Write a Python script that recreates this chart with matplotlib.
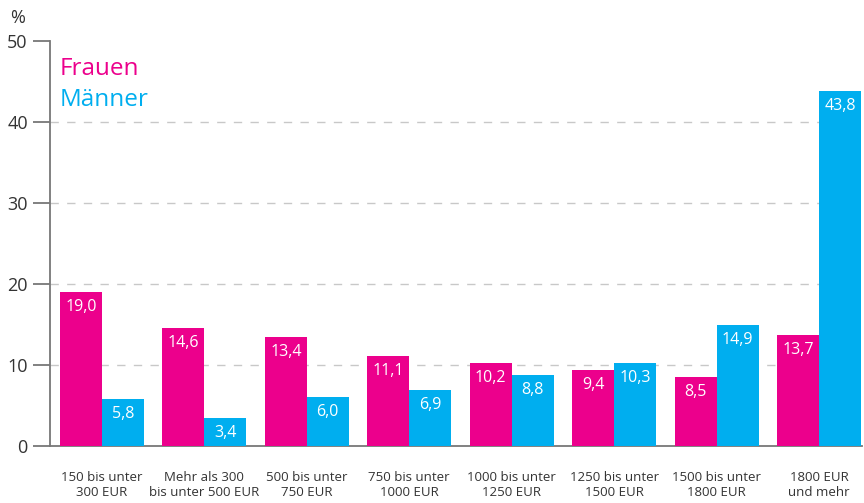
import matplotlib
matplotlib.use("Agg")
import matplotlib.pyplot as plt
import numpy as np

categories = ["150 bis unter\n300 EUR", "Mehr als 300\nbis unter 500 EUR", "500 bis unter\n750 EUR",
              "750 bis unter\n1000 EUR", "1000 bis unter\n1250 EUR", "1250 bis unter\n1500 EUR",
              "1500 bis unter\n1800 EUR", "1800 EUR\nund mehr"]
frauen = [19.0, 14.6, 13.4, 11.1, 10.2, 9.4, 8.5, 13.7]
maenner = [5.8, 3.4, 6.0, 6.9, 8.8, 10.3, 14.9, 43.8]
yticks = [0, 10, 20, 30, 40, 50]

PINK = "#EC008C"
BLUE = "#00AEEF"
plt.rcParams['font.family'] = ['Open Sans', 'DejaVu Sans']

W, H = 864, 503
fig = plt.figure(figsize=(W/100, H/100), dpi=100)
ax = fig.add_axes([50/W, (H-446)/H, (862-50)/W, (446-41)/H])

x = np.arange(len(categories))
bw = 0.41
b1 = ax.bar(x - bw/2, frauen, bw, color=PINK, zorder=3)
b2 = ax.bar(x + bw/2, maenner, bw, color=BLUE, zorder=3)

def fmt(v):
    return f"{v:.1f}".replace(".", ",")

for bars, vals in ((b1, frauen), (b2, maenner)):
    for r, v in zip(bars, vals):
        ax.annotate(fmt(v), (r.get_x() + r.get_width()/2, v), xytext=(0, -5),
                    textcoords="offset points", ha="center", va="top",
                    color="white", fontsize=11.5, zorder=4)

ax.set_xlim(-0.507, 7.42)
ax.set_ylim(0, 50)
ax.set_yticks(yticks)
ax.set_yticklabels([str(t) for t in yticks], fontsize=13, color="#333333")
ax.set_xticks(x)
ax.set_xticklabels(categories, fontsize=9.5, color="#333333", linespacing=1.15)
ax.tick_params(axis="x", length=0, pad=18)
ax.tick_params(axis="y", length=12, width=1.3, color="#777777", pad=4)
for t in yticks[1:-1]:
    ax.axhline(t, color="#c8c8c8", lw=1, ls=(0, (6, 6)), zorder=1)
for s in ("top", "right"):
    ax.spines[s].set_visible(False)
for s in ("left", "bottom"):
    ax.spines[s].set_color("#777777")
    ax.spines[s].set_linewidth(1.3)

fig.text(10/W, 1 - 18/H, "%", fontsize=13, color="#333333", va="center", ha="left")
ax.text(0.012, 0.93, "Frauen", transform=ax.transAxes, color=PINK, fontsize=17.5, va="center")
ax.text(0.012, 0.855, "Männer", transform=ax.transAxes, color=BLUE, fontsize=17.5, va="center")

fig.savefig("out.png", dpi=100)
